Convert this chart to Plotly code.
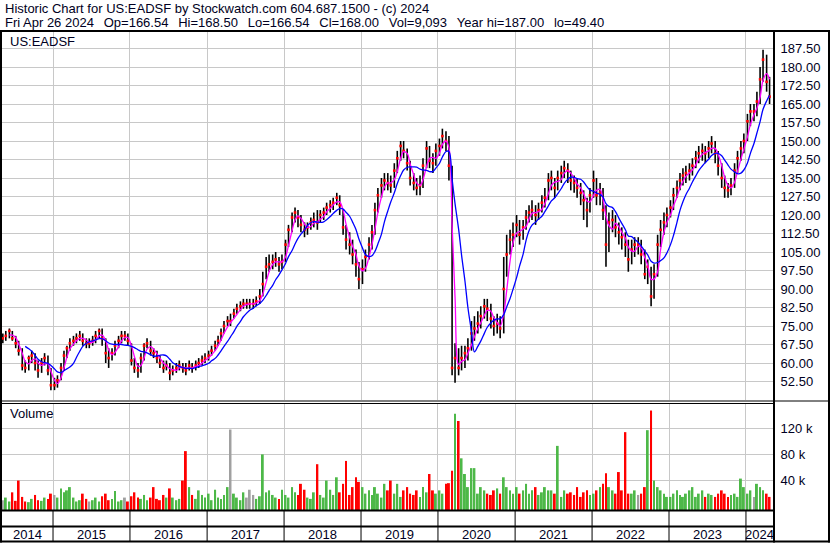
import pandas as pd
import plotly.graph_objects as go

# ---------------- data (semi-monthly periods) ----------------
c2014 = [70, 71, 73, 70, 68, 65, 59, 58, 62, 63, 60, 57, 60, 62, 57, 51]
h2014 = [72, 73, 74, 73, 71, 69, 66, 61, 63, 65, 64, 61, 62, 64, 63, 58]
l2014 = [68, 69, 70, 69, 66, 63, 57, 56, 57, 60, 57, 54, 56, 59, 55, 49]

c2015 = [51, 53, 58, 63, 66, 68, 69, 70, 71, 69, 68, 68, 69, 71, 73, 70, 64, 62, 64, 67, 69, 71, 71, 69]
h2015 = [54, 55, 60, 65, 67, 70, 71, 72, 73, 72, 70, 70, 71, 73, 74, 74, 70, 66, 66, 69, 71, 73, 73, 72]
l2015 = [49, 50, 53, 57, 62, 65, 67, 68, 69, 67, 66, 66, 67, 68, 70, 67, 60, 58, 61, 63, 66, 68, 69, 67]

c2016 = [61, 58, 57, 62, 67, 68, 65, 64, 62, 60, 58, 59, 56, 57, 58, 59, 58, 57, 59, 58, 59, 60, 61, 62]
h2016 = [68, 62, 60, 64, 68, 70, 69, 66, 65, 63, 61, 61, 60, 59, 60, 61, 60, 60, 61, 60, 61, 62, 63, 64]
l2016 = [59, 56, 54, 56, 61, 66, 63, 62, 60, 58, 56, 57, 53, 55, 56, 57, 56, 55, 57, 56, 57, 58, 59, 60]

c2017 = [63, 65, 67, 69, 72, 75, 77, 77, 80, 82, 83, 84, 84, 84, 84, 85, 87, 92, 99, 100, 101, 102, 100, 101]
h2017 = [65, 67, 69, 71, 74, 77, 79, 80, 82, 84, 85, 86, 86, 86, 86, 87, 90, 97, 103, 104, 104, 105, 103, 104]
l2017 = [61, 63, 65, 67, 69, 72, 75, 75, 78, 80, 81, 82, 82, 82, 82, 83, 84, 87, 94, 97, 98, 99, 97, 98]

c2018 = [108, 114, 119, 121, 119, 116, 114, 115, 117, 118, 117, 120, 121, 123, 124, 125, 127, 124, 115, 110, 108, 104, 100, 94]
h2018 = [110, 116, 121, 123, 122, 120, 117, 117, 119, 121, 122, 122, 123, 125, 126, 127, 129, 128, 122, 116, 113, 110, 106, 101]
l2018 = [101, 107, 113, 117, 115, 113, 111, 112, 114, 115, 114, 117, 118, 120, 121, 122, 124, 120, 112, 106, 104, 100, 95, 90]

c2019 = [98, 103, 108, 113, 122, 128, 132, 134, 133, 132, 138, 143, 148, 146, 141, 135, 133, 131, 132, 140, 147, 142, 141, 146]
h2019 = [102, 106, 111, 116, 125, 131, 135, 137, 137, 136, 141, 146, 150, 150, 147, 142, 137, 135, 136, 143, 150, 148, 145, 149]
l2019 = [92, 97, 102, 106, 112, 121, 127, 130, 130, 129, 131, 137, 142, 143, 138, 132, 130, 128, 128, 131, 139, 139, 137, 140]

c2020 = [148, 152, 150, 140, 58, 62, 58, 62, 64, 66, 72, 74, 76, 79, 83, 82, 78, 75, 76, 74, 90, 104, 110, 112]
h2020 = [151, 155, 154, 152, 140, 68, 66, 67, 67, 70, 77, 79, 81, 83, 86, 86, 84, 79, 80, 79, 103, 112, 114, 117]
l2020 = [144, 147, 146, 134, 55, 52, 55, 57, 58, 61, 65, 69, 72, 74, 78, 77, 74, 71, 72, 70, 72, 95, 104, 107]

c2021 = [116, 112, 115, 119, 121, 122, 120, 122, 125, 127, 134, 135, 131, 135, 137, 139, 138, 134, 133, 131, 129, 126, 122, 128]
h2021 = [120, 118, 118, 122, 124, 126, 124, 125, 128, 131, 137, 138, 135, 138, 140, 142, 141, 138, 136, 135, 133, 130, 127, 131]
l2021 = [111, 108, 110, 114, 117, 118, 116, 118, 121, 123, 126, 130, 127, 130, 133, 135, 133, 130, 129, 127, 124, 118, 115, 121]

c2022 = [134, 128, 129, 122, 108, 117, 118, 115, 113, 111, 108, 102, 106, 108, 108, 104, 96, 99, 87, 96, 108, 114, 117, 120]
h2022 = [138, 135, 133, 131, 124, 121, 122, 120, 117, 115, 113, 110, 110, 111, 111, 110, 106, 102, 99, 100, 112, 118, 121, 123]
l2022 = [127, 124, 124, 118, 99, 105, 113, 111, 108, 106, 103, 97, 100, 103, 104, 100, 94, 92, 83, 86, 95, 107, 112, 115]

c2023 = [123, 128, 131, 134, 136, 137, 138, 140, 143, 145, 146, 145, 147, 149, 145, 140, 135, 131, 130, 132, 138, 143, 147, 150]
h2023 = [126, 131, 134, 137, 139, 140, 141, 143, 146, 148, 149, 148, 150, 152, 150, 146, 141, 136, 133, 135, 141, 146, 150, 153]
l2023 = [119, 122, 127, 130, 132, 133, 134, 136, 139, 141, 142, 141, 143, 145, 141, 136, 131, 127, 127, 128, 131, 137, 142, 145]

c2024 = [158, 162, 162, 166, 175, 183, 174, 168]
h2024 = [161, 165, 165, 170, 180, 187, 185, 176]
l2024 = [150, 156, 158, 160, 165, 174, 170, 165]

# volume in thousands of shares (tallest daily spikes per half-month)
v2014 = [10, 14, 8, 22, 9, 40, 15, 8, 7, 12, 18, 10, 9, 14, 12, 20]
v2015 = [18, 14, 28, 22, 25, 30, 14, 8, 10, 20, 12, 8, 10, 14, 8, 16, 20, 10, 12, 24, 8, 10, 14, 8]
v2016 = [16, 22, 14, 12, 18, 10, 14, 30, 12, 10, 18, 14, 28, 14, 10, 12, 40, 85, 30, 18, 12, 25, 18, 14]
v2017 = [20, 10, 26, 14, 12, 18, 30, 118, 20, 14, 10, 22, 14, 26, 18, 12, 16, 80, 22, 25, 18, 14, 12, 26]
v2018 = [18, 14, 30, 22, 18, 35, 26, 14, 12, 22, 65, 18, 14, 40, 26, 18, 45, 22, 35, 70, 18, 30, 45, 38]
v2019 = [30, 20, 25, 18, 30, 20, 14, 35, 25, 40, 20, 35, 15, 25, 30, 20, 18, 25, 15, 30, 22, 50, 25, 20]
v2020 = [25, 20, 35, 36, 55, 142, 131, 74, 50, 30, 59, 59, 20, 30, 25, 20, 18, 25, 28, 20, 45, 30, 25, 20]
v2021 = [30, 20, 25, 35, 20, 25, 30, 18, 22, 30, 25, 25, 20, 93, 15, 25, 20, 22, 18, 30, 15, 22, 25, 18]
v2022 = [20, 25, 30, 35, 51, 30, 25, 20, 53, 25, 114, 20, 20, 25, 18, 20, 30, 117, 147, 40, 30, 25, 20, 15]
v2023 = [15, 20, 25, 18, 15, 20, 25, 30, 15, 20, 25, 15, 20, 18, 15, 20, 25, 20, 15, 18, 20, 15, 43, 30]
v2024 = [20, 25, 15, 35, 30, 25, 20, 15]

price_ticks = [52.5, 60, 67.5, 75, 82.5, 90, 97.5, 105, 112.5, 120, 127.5, 135, 142.5,
               150, 157.5, 165, 172.5, 180, 187.5]
vol_ticks = [40000, 80000, 120000]
vol_tick_text = ["40 k", "80 k", "120 k"]
years = list(range(2014, 2025))

SP = "\u00a0\u00a0\u2009"
header1 = "Historic Chart for US:EADSF by Stockwatch.com 604.687.1500 - (c) 2024"
header2 = ("Fri Apr 26 2024" + SP + "Op=166.54" + SP + "Hi=168.50" + SP + "Lo=166.54" + SP +
           "Cl=168.00" + SP + "Vol=9,093" + SP + "Year hi=187.00" + SP + "lo=49.40")
symbol = "US:EADSF"

# ---------------- assemble ----------------
close = c2014 + c2015 + c2016 + c2017 + c2018 + c2019 + c2020 + c2021 + c2022 + c2023 + c2024
high = h2014 + h2015 + h2016 + h2017 + h2018 + h2019 + h2020 + h2021 + h2022 + h2023 + h2024
low = l2014 + l2015 + l2016 + l2017 + l2018 + l2019 + l2020 + l2021 + l2022 + l2023 + l2024
vol_k = v2014 + v2015 + v2016 + v2017 + v2018 + v2019 + v2020 + v2021 + v2022 + v2023 + v2024

dates = pd.date_range("2014-05-01", "2024-04-15", freq="SMS") + pd.Timedelta(days=7)
df = pd.DataFrame({"d": dates, "c": close, "h": high, "l": low, "v": [v * 1000 for v in vol_k]})
df["ma_fast"] = df["c"].rolling(3).mean()
df["ma_slow"] = df["c"].rolling(8).mean()
chg = df["c"].diff().fillna(0)
vcol = ["#4db848" if x > 0 else ("#ff0000" if x < 0 else "#a0a0a0") for x in chg]

W, H = 830, 543
L, R, T, B = 2, 56, 32, 33
PW, PH = W - L - R, H - T - B


def px(xp):
    return (xp - L) / PW


def py(yp):
    return (H - B - yp) / PH


vol_top = py(404)
price_bot = py(400)

x0 = pd.Timestamp("2014-05-04")
x1 = pd.Timestamp("2024-05-13")

FONT = "Liberation Sans, Arial, sans-serif"
GRID = "#c8c8c8"
TXT = "#000022"

fig = go.Figure()
fig.add_trace(go.Scatter(
    x=df["d"], y=df["c"], mode="markers",
    marker=dict(symbol="square", size=2.6, color="#ff0000", line=dict(width=0)),
    error_y=dict(type="data", symmetric=False, array=df["h"] - df["c"],
                 arrayminus=df["c"] - df["l"], color="#000000", thickness=1.6, width=0),
    xaxis="x", yaxis="y", showlegend=False, hoverinfo="skip"))
fig.add_trace(go.Scatter(
    x=df["d"], y=df["ma_fast"], mode="lines", line=dict(color="#ff00ff", width=1.3, shape="spline"),
    xaxis="x", yaxis="y", showlegend=False, hoverinfo="skip"))
fig.add_trace(go.Scatter(
    x=df["d"], y=df["ma_slow"], mode="lines", line=dict(color="#0000ff", width=1.3, shape="spline"),
    xaxis="x", yaxis="y", showlegend=False, hoverinfo="skip"))
fig.add_trace(go.Bar(
    x=df["d"], y=df["v"] + 5000, base=-5000, marker=dict(color=vcol, line=dict(width=0)),
    xaxis="x2", yaxis="y2", showlegend=False, hoverinfo="skip"))

year_starts = [pd.Timestamp(f"{y}-01-01") for y in years[1:]]

fig.update_layout(
    width=W, height=H, margin=dict(l=L, r=R, t=T, b=B),
    paper_bgcolor="white", plot_bgcolor="white",
    bargap=0.35,
    font=dict(family=FONT, size=13, color="#000000"),
    xaxis=dict(domain=[0, 1], anchor="y", type="date", range=[x0, x1], tickvals=year_starts,
               showticklabels=False, ticks="", showgrid=True, gridcolor=GRID, gridwidth=1,
               zeroline=False, showline=False),
    xaxis2=dict(domain=[0, 1], anchor="y2", type="date", range=[x0, x1], tickvals=year_starts,
                showticklabels=False, ticks="", showgrid=True, gridcolor=GRID, gridwidth=1,
                zeroline=False, showline=False, matches="x"),
    yaxis=dict(domain=[price_bot, 1], anchor="x", side="right", range=[45.0, 194.2],
               tickvals=price_ticks, tickformat=".2f", showgrid=True, gridcolor=GRID, gridwidth=1,
               zeroline=False, showline=False, ticks="outside", ticklen=3, tickcolor="white",
               tickfont=dict(family=FONT, size=13, color=TXT)),
    yaxis2=dict(domain=[0, vol_top], anchor="x2", side="right", range=[-5000, 157000],
                tickvals=vol_ticks, ticktext=vol_tick_text, showgrid=True, gridcolor=GRID, gridwidth=1,
                zeroline=False, showline=False, ticks="outside", ticklen=3, tickcolor="white",
                tickfont=dict(family=FONT, size=13, color=TXT)),
)

ann = [
    dict(text=header1, x=px(3), y=py(8.5)),
    dict(text=header2, x=px(3), y=py(22)),
    dict(text=symbol, x=px(8), y=py(41)),
    dict(text="Volume", x=px(8), y=py(413)),
]
for a in ann:
    fig.add_annotation(xref="paper", yref="paper", xanchor="left", yanchor="middle",
                       showarrow=False, font=dict(family=FONT, size=13, color=TXT), **a)

# year labels centred in each year segment of the date axis
for y in years:
    s = max(pd.Timestamp(f"{y}-01-01"), x0)
    e = min(pd.Timestamp(f"{y + 1}-01-01"), x1)
    mid = s + (e - s) / 2
    fig.add_annotation(xref="x", yref="paper", x=mid, y=py(534), text=str(y), showarrow=False,
                       xanchor="center", yanchor="middle",
                       font=dict(family=FONT, size=13, color=TXT))

shapes = []


def hline(yp, xa, xb, w):
    shapes.append(dict(type="line", xref="paper", yref="paper", x0=px(xa), x1=px(xb), y0=py(yp), y1=py(yp),
                       line=dict(color="black", width=w)))


def vline(xp, ya, yb, w):
    shapes.append(dict(type="line", xref="paper", yref="paper", x0=px(xp), x1=px(xp), y0=py(ya), y1=py(yb),
                       line=dict(color="black", width=w)))


hline(31, 0, 830, 2)
hline(401, 0, 830, 1)
hline(403.5, 0, 774, 1)
hline(510.5, 0, 774, 2)
hline(526.5, 0, 774, 2)
hline(541.5, 0, 830, 2)
vline(1, 30, 542.5, 2)
vline(774, 30, 542.5, 2)
vline(829, 30, 542.5, 2)
for d in year_starts:
    shapes.append(dict(type="line", xref="x", yref="paper", x0=d, x1=d, y0=py(510), y1=py(541),
                       line=dict(color="black", width=1)))
fig.update_layout(shapes=shapes)

fig.write_html("out.html", config={"displayModeBar": False},
               post_script="document.body.style.margin='0px';document.body.style.overflow='hidden';")
